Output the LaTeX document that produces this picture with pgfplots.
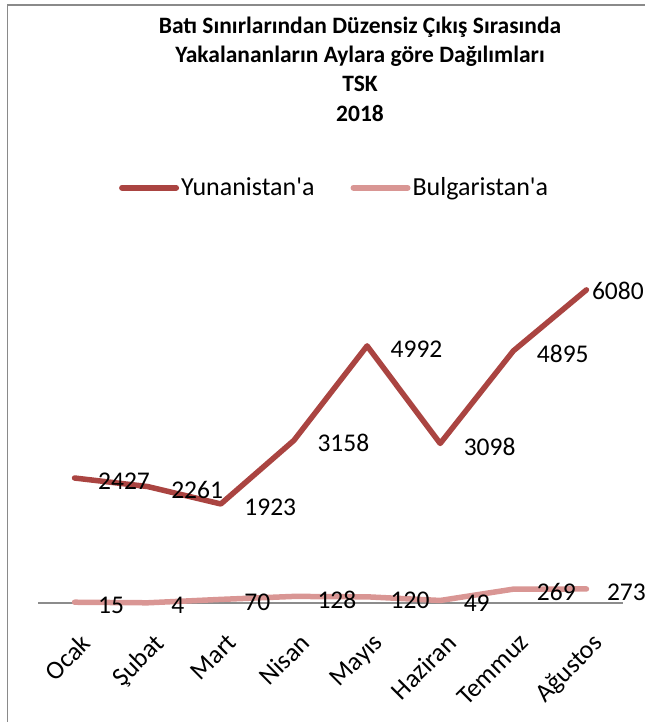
\documentclass[border=0pt]{standalone}
\usepackage{pgfplots}
\pgfplotsset{compat=1.18}
\usepackage{fontspec}
\setmainfont{Carlito}
\definecolor{yun}{HTML}{AA4441}
\definecolor{bul}{HTML}{D99694}
\definecolor{frame}{HTML}{8A8A8A}
\begin{document}
\begin{tikzpicture}[x=1pt,y=1pt]
\useasboundingbox (0,0) rectangle (645,722);
\draw[frame, line width=1.5pt] (7.5,0) -- (7.5,717) -- (645,717);
\node[align=center, font=\fontsize{23.5}{29.3}\selectfont\bfseries] at (360,653)
  {Batı Sınırlarından Düzensiz Çıkış Sırasında\\Yakalananların Aylara göre Dağılımları\\TSK\\2018};
\begin{axis}[
  at={(38pt,119pt)}, anchor=south west,
  scale only axis, width=585pt, height=360.5pt,
  xmin=-0.5, xmax=7.5, ymin=0, ymax=7000,
  clip=false,
  axis x line*=bottom, axis y line=none,
  x axis line style={draw=black!45, line width=1.2pt, -},
  major tick length=0pt,
  xtick={0,...,7},
  xticklabels={Ocak,Şubat,Mart,Nisan,Mayıs,Haziran,Temmuz,Ağustos},
  xticklabel style={xshift=5pt, yshift=-29pt, rotate=45, anchor=north east, font=\fontsize{26}{26}\selectfont, inner sep=0pt},
  /pgf/number format/1000 sep={},
  /pgf/number format/assume math mode=true,
  nodes near coords,
  every node near coord/.append style={anchor=west, xshift=17.5pt, yshift=-3pt, font=\fontsize{25.5}{25.5}\selectfont, text=black},
  legend style={at={(0.507,1.152)}, anchor=center, draw=none, legend columns=2,
    font=\fontsize{26}{26}\selectfont, column sep=0pt, inner sep=0pt,
    /tikz/every even column/.append style={column sep=34pt}},
  legend image code/.code={\draw[#1, line width=6pt, line cap=round] (0pt,0pt) -- (54pt,0pt);},
]
\addplot[yun, line width=5.5pt, line join=round, line cap=round,
  coordinate style/.condition={\coordindex==7}{xshift=-18pt, yshift=2pt}]
  coordinates {(0,2427) (1,2261) (2,1923) (3,3158) (4,4992) (5,3098) (6,4895) (7,6080)};
\addlegendentry{Yunanistan\textquotesingle a}
\addplot[bul, line width=5.5pt, line join=round, line cap=round,
  coordinate style/.condition={\coordindex==7}{xshift=-3pt}]
  coordinates {(0,15) (1,4) (2,70) (3,128) (4,120) (5,49) (6,269) (7,273)};
\addlegendentry{Bulgaristan\textquotesingle a}
\end{axis}
\end{tikzpicture}
\end{document}
